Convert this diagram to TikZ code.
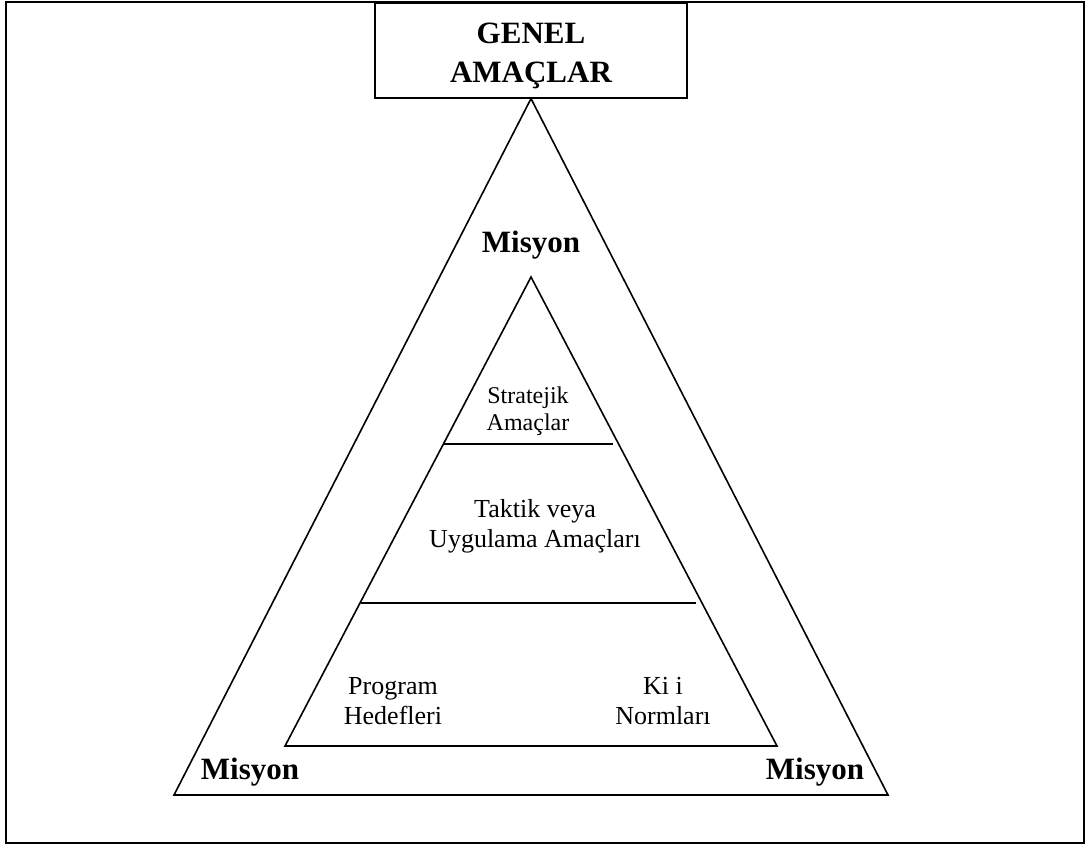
\documentclass[tikz,border=0pt]{standalone}
\usepackage{fontspec}
\setmainfont{Liberation Serif}
\begin{document}
\begin{tikzpicture}[x=1pt,y=-1pt,line width=1.6pt,line join=miter,
  boldtxt/.style={font=\fontsize{31}{39}\selectfont\bfseries,align=center,inner sep=0pt},
  plaintxt/.style={font=\fontsize{26}{30}\selectfont,align=center,inner sep=0pt},
  smalltxt/.style={font=\fontsize{24}{27}\selectfont,align=center,inner sep=0pt}]
\useasboundingbox (0,0) rectangle (1086,847);
\draw[line width=2.2pt] (6,2) rectangle (1084,843);
% top box
\node (box) [draw,minimum width=312pt,minimum height=95pt,anchor=north,inner sep=0pt] at (531,2) {};
\node (genel) [boldtxt] at (531,56) {GENEL\\AMAÇLAR};
% outer triangle
\coordinate (A) at (box.south);
\coordinate (L) at (174,795);
\coordinate (R) at (888,795);
\draw (A) -- (L) -- (R) -- cycle;
% inner triangle
\coordinate (a) at (531,277);
\coordinate (l) at (285,746);
\coordinate (r) at (777,746);
\draw (a) -- (l) -- (r) -- cycle;
\coordinate (s1) at (444,444);
\coordinate (s2) at (613,444);
\coordinate (t1) at (361,603);
\coordinate (t2) at (696,603);
\draw (s1) -- (s2);
\draw (t1) -- (t2);
% labels
\node (m1) [boldtxt] at (531,245) {Misyon};
\node (m2) [boldtxt] at (250,772) {Misyon};
\node (m3) [boldtxt] at (815,772) {Misyon};
\node (strat) [smalltxt] at (528,411) {Stratejik\\Amaçlar};
\node (takt) [plaintxt] at (535,526) {Taktik veya\\Uygulama Amaçları};
\node (prog) [plaintxt] at (393,701) {Program\\Hedefleri};
\node (kisi) [plaintxt] at (663,701) {Ki i\\Normları};
\end{tikzpicture}
\end{document}
